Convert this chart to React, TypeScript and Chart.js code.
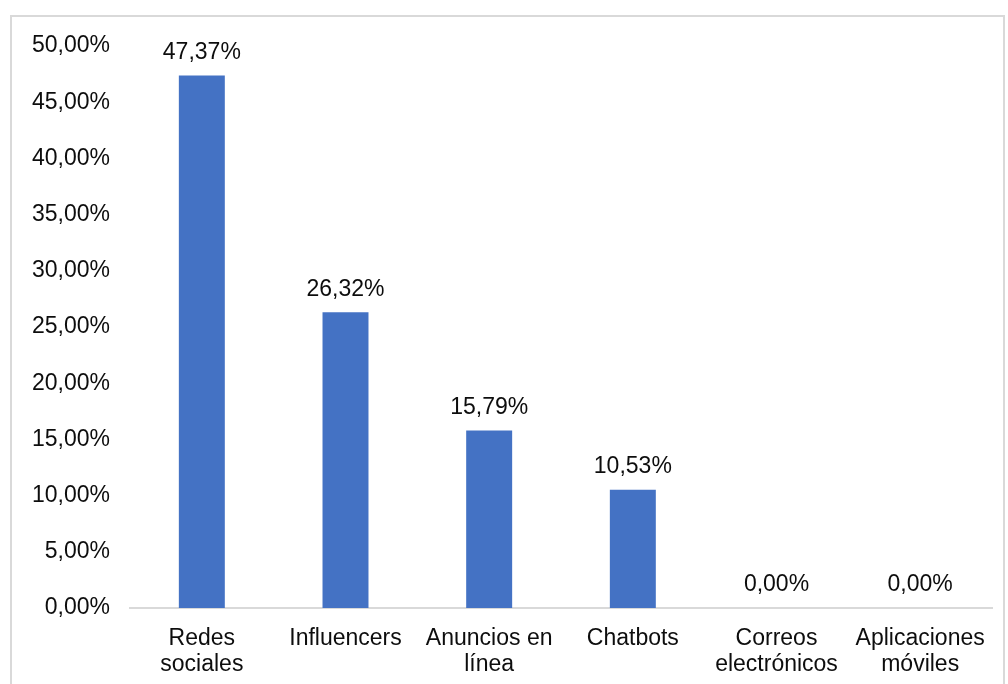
import React, { useEffect, useRef } from "react";
import { Chart, registerables } from "chart.js";

Chart.register(...registerables);

const categories: string[][] = [
  ["Redes", "sociales"],
  ["Influencers"],
  ["Anuncios en", "línea"],
  ["Chatbots"],
  ["Correos", "electrónicos"],
  ["Aplicaciones", "móviles"],
];
const values: number[] = [47.37, 26.32, 15.79, 10.53, 0, 0];
const yMin = 0;
const yMax = 50;
const yStep = 5;

const FONT = "'Liberation Sans', Arial, sans-serif";
const FS = 23;
const fmt = (v: number) => v.toFixed(2).replace(".", ",") + "%";

const valueLabels = {
  id: "valueLabels",
  afterDatasetsDraw(chart: any) {
    const ctx = chart.ctx;
    const meta = chart.getDatasetMeta(0);
    ctx.save();
    ctx.font = `${FS}px ${FONT}`;
    ctx.fillStyle = "#0d0d0d";
    ctx.textAlign = "center";
    ctx.textBaseline = "middle";
    meta.data.forEach((el: any, i: number) => {
      ctx.fillText(fmt(values[i]), el.x, el.y - 23);
    });
    ctx.restore();
  },
};

export default function App() {
  const ref = useRef<HTMLCanvasElement>(null);
  useEffect(() => {
    if (!ref.current) return;
    const chart = new Chart(ref.current, {
      type: "bar",
      data: {
        labels: categories,
        datasets: [
          {
            data: values,
            backgroundColor: "#4472c4",
            barPercentage: 0.32,
            categoryPercentage: 1,
          },
        ],
      },
      options: {
        animation: false,
        responsive: false,
        maintainAspectRatio: false,
        layout: { padding: { top: 46, right: 16, left: 0, bottom: 0 } },
        plugins: { legend: { display: false }, tooltip: { enabled: false } },
        scales: {
          x: {
            grid: { display: false },
            border: { display: true, color: "#d9d9d9", width: 2 },
            ticks: {
              color: "#0d0d0d",
              font: { family: FONT, size: FS, lineHeight: 1.13 },
              padding: 10,
              maxRotation: 0,
              autoSkip: false,
            },
            afterFit: (s: any) => {
              s.height = 76;
            },
          },
          y: {
            min: yMin,
            max: yMax,
            grid: { display: false, drawTicks: false },
            border: { display: false },
            ticks: {
              stepSize: yStep,
              color: "#0d0d0d",
              font: { family: FONT, size: FS },
              padding: 20,
              callback: (v: any) => fmt(Number(v)),
            },
            afterFit: (s: any) => {
              s.width = 130;
            },
          },
        },
      },
      plugins: [valueLabels],
    });
    return () => chart.destroy();
  }, []);
  return (
    <div style={{ position: "absolute", left: 0, top: 0, width: 1008, height: 684, overflow: "hidden", background: "#fff" }}>
      <div
        style={{
          position: "absolute",
          left: 10,
          top: 15,
          width: 995,
          height: 720,
          border: "2px solid #d9d9d9",
          boxSizing: "border-box",
        }}
      />
      <canvas ref={ref} width={1008} height={684} style={{ position: "absolute", left: 0, top: 0 }} />
    </div>
  );
}
